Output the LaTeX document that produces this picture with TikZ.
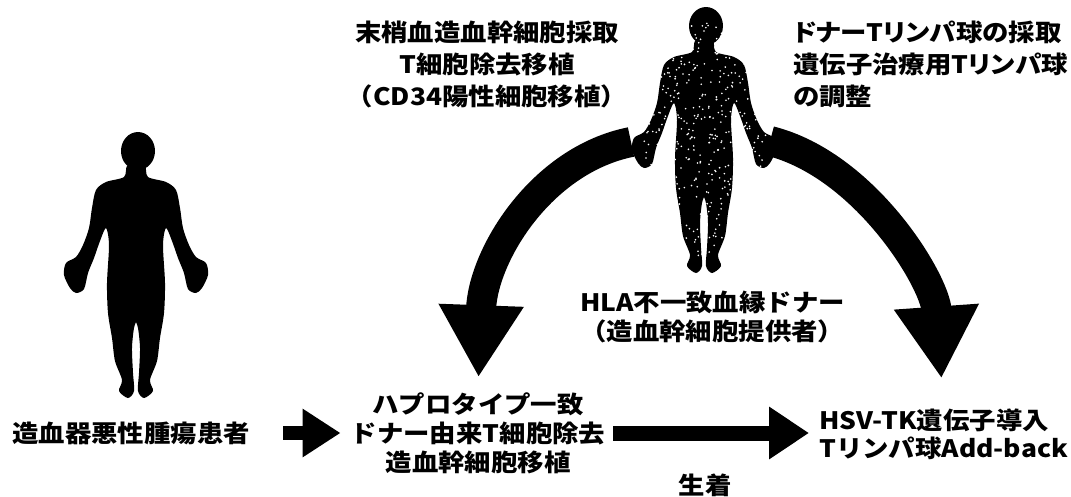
\documentclass[tikz,border=0pt]{standalone}
\usepackage{fontspec}
\setmainfont{Noto Sans CJK JP}[FakeStretch=1.1]
\usetikzlibrary{arrows.meta}

% right half of a standing figure, origin at the top of the head
\newcommand{\halfbody}{%
  \fill plot[smooth, tension=0.5] coordinates {
    (-1,33) (9,33) (12,44) (30,49) (40,57) (44,75) (47,95) (53,112)
    (60,124) (70,130) (72,142) (66,155) (60,160) (52,156) (48,140) (42,125)
    (36,108) (30,95) (27,112) (29,150) (28,180) (24,205) (21,228)
    (14,247) (17,258) (8,265) (2,258) (3,240) (4,215) (2,195) (-1,187)} -- cycle;}
\newcommand{\human}[1]{%
  \begin{scope}[shift={#1}]
    \fill (2,18) ellipse [x radius=17, y radius=19];
    \halfbody
    \begin{scope}[xscale=-1]\halfbody\end{scope}
  \end{scope}}

\begin{document}
\begin{tikzpicture}[x=1pt,y=-1pt,
    txt/.style={font=\bfseries\fontsize{24}{#1}\selectfont, inner sep=0pt, align=center},
    txt/.default=30,
    narrow/.style={font=\bfseries\fontsize{24}{32}\selectfont\addfontfeatures{RawFeature=+palt}},
    flowarrow/.style={line width=14pt, -{Triangle[length=38pt,width=46pt]}},
    longarrow/.style={line width=15pt, -{Triangle[length=40pt,width=50pt]}},
    curvearrow/.style={line width=30pt, -{Triangle[length=72pt,width=80pt]}}]
    \useasboundingbox (0,0) rectangle (1071,496);

    % patient and donor
    \human{(136,133)}
    \human{(704,8)}
    \pgfmathsetseed{11}
    \foreach \i in {1,...,520}
        \fill[white] ({704+62*rand},{22+235*rnd}) circle (0.9pt);
    \coordinate (lhand) at (631,142);
    \coordinate (rhand) at (770,141);

    % texts
    \node[txt, anchor=west] (patient) at (12,433) {造血器悪性腫瘍患者};
    \node[txt=29] (haplo) at (478,433) {ハプロタイプ一致\\ドナー由来T細胞除去\\造血幹細胞移植};
    \node[txt=28, anchor=west, align=left] (hsv) at (819,434) {HSV-TK遺伝子導入\\Tリンパ球Add-back};
    \node[txt] (engraft) at (705,485) {生着};
    \node[txt=29, anchor=west, align=left] (hla) at (580,317) {HLA不一致血縁ドナー\\（造血幹細胞提供者）};
    \node[txt=32] (cd34) at (487,64) {末梢血造血幹細胞採取\\T細胞除去移植\\（CD34陽性細胞移植）};
    \node[txt, narrow, anchor=west, align=left] (dli) at (793,64) {ドナーTリンパ球の採取\\遺伝子治療用Tリンパ球\\の調整};

    % arrows
    \draw[flowarrow, shorten <=33pt, shorten >=10pt] (patient.east) -- (haplo.west);
    \draw[longarrow, shorten <=8pt, shorten >=10pt] (haplo.east) -- (haplo.east -| hsv.west);
    \draw[curvearrow, shorten >=15pt] (lhand) .. controls +(-90,18) and +(5,-137) .. (haplo.north);
    \draw[curvearrow, shorten >=30pt] (rhand) .. controls +(95,24) and +(-9,-128) .. (hsv.north);
\end{tikzpicture}
\end{document}
